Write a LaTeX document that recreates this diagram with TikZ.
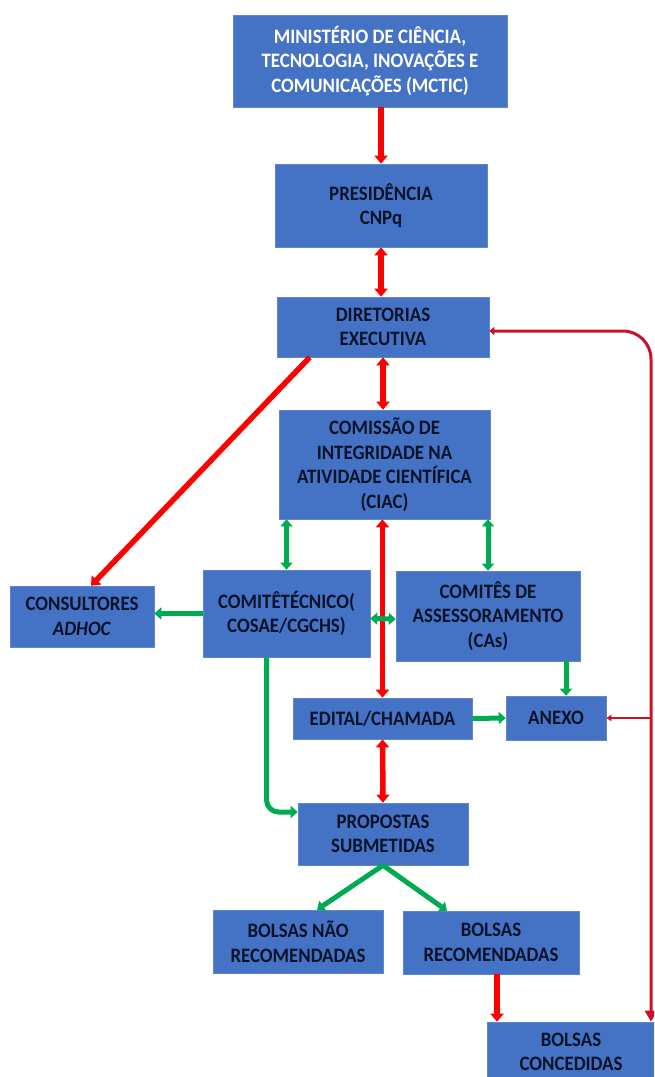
\documentclass[tikz,border=0pt]{standalone}
\usepackage{fontspec}
\setmainfont{Carlito}[FakeStretch=0.92]
\usepackage{tikz}
\usetikzlibrary{arrows.meta}
\definecolor{boxblue}{RGB}{68,114,196}
\definecolor{inkblue}{RGB}{12,18,40}
\definecolor{arrred}{RGB}{255,0,0}
\definecolor{arrgreen}{RGB}{0,170,80}
\definecolor{linkred}{RGB}{205,16,40}

\begin{document}
\begin{tikzpicture}[
  x=1pt, y=-1pt,
  box/.style={fill=boxblue, draw=boxblue!85!white, line width=0.6pt, align=center, inner sep=2pt, font=\fontsize{20.5}{24.5}\selectfont\bfseries, text=inkblue},
  rarr/.style={line width=5.5pt, draw=arrred, >={Triangle[width=13pt,length=8pt]}},
  garr/.style={line width=5pt, draw=arrgreen, >={Triangle[width=12pt,length=7pt]}},
  link/.style={line width=3pt, draw=linkred, rounded corners=28pt}
]
\path[use as bounding box, clip] (0,0) rectangle (654,1077);
\node[box,text=white,minimum width=274pt,minimum height=92pt] (mctic) at (370,61) {MINISTÉRIO DE CIÊNCIA,\\TECNOLOGIA, INOVAÇÕES E\\COMUNICAÇÕES (MCTIC)};
\node[box,minimum width=212pt,minimum height=83pt] (pres) at (381,205.5) {PRESIDÊNCIA\\CNPq};
\node[box,minimum width=212pt,minimum height=60pt] (dir) at (383,327) {DIRETORIAS\\EXECUTIVA};
\node[box,minimum width=211pt,minimum height=109pt] (ciac) at (384.5,464.5) {COMISSÃO DE\\INTEGRIDADE NA\\ATIVIDADE CIENTÍFICA\\(CIAC)};
\node[box,minimum width=167pt,minimum height=87pt] (ctec) at (286.5,613.5) {COMITÊTÉCNICO(\\COSAE/CGCHS)};
\node[box,minimum width=184pt,minimum height=90pt] (cas) at (488,616) {COMITÊS DE\\ASSESSORAMENTO\\(CAs)};
\node[box,minimum width=144pt,minimum height=61pt] (cons) at (82,616.5) {CONSULTORES\\\textit{ADHOC}};
\node[box,minimum width=179pt,minimum height=41pt] (edital) at (382.5,718.5) {EDITAL/CHAMADA};
\node[box,minimum width=100pt,minimum height=44pt] (anexo) at (556,718) {ANEXO};
\node[box,minimum width=170pt,minimum height=62pt] (prop) at (383,834) {PROPOSTAS\\SUBMETIDAS};
\node[box,minimum width=170pt,minimum height=63pt] (bnr) at (298,941.5) {BOLSAS NÃO\\RECOMENDADAS};
\node[box,minimum width=176pt,minimum height=63pt] (brec) at (491,942.5) {BOLSAS\\RECOMENDADAS};
\node[box,minimum width=168pt,minimum height=60pt] (conc) at (571,1052) {BOLSAS\\CONCEDIDAS};
\coordinate (tap) at (651,718);
\draw[rarr,->] (pres.north |- mctic.south) -- (pres.north);
\draw[rarr,<->] (pres.south) -- (pres.south |- dir.north);
\draw[rarr,<->] (dir.south) -- (dir.south |- ciac.north);
\draw[rarr,->] ([xshift=33pt]dir.south west) -- ([xshift=9pt]cons.north);
\draw[rarr,<->] (edital.north |- ciac.south) -- (edital.north);
\draw[rarr,<->] (edital.south) -- (prop.north);
\draw[rarr,->] ([xshift=-74pt]conc.north |- brec.south) -- ([xshift=-74pt]conc.north);
\draw[garr,<->] (ciac.south -| ctec.north) -- (ctec.north);
\draw[garr,<->] (ciac.south -| cas.north) -- (cas.north);
\draw[garr,->] (ctec.west) -- (ctec.west -| cons.east);
\draw[garr,<->] ([yshift=-5pt]ctec.east) -- ([yshift=-3pt]cas.west);
\draw[garr,->] ([xshift=78pt]cas.south) -- ([xshift=10pt]anexo.north);
\draw[garr,->] (edital.east) -- (anexo.west);
\draw[garr,->,rounded corners=12pt] ([xshift=-20pt]ctec.south) |- ([yshift=22pt]prop.west);
\draw[garr,->] (prop.south) -- ([xshift=19pt]bnr.north);
\draw[garr,->] (prop.south) -- ([xshift=-44pt]brec.north);
\draw[link,{Triangle[width=8pt,length=5pt]}-{Triangle[width=12pt,length=11pt]}] ([yshift=-4pt]dir.east) -| ([xshift=80pt]conc.north);
\draw[line width=2pt, draw=linkred, -{Triangle[width=6pt,length=5pt]}] (tap) -- (anexo.east);
\end{tikzpicture}
\end{document}
